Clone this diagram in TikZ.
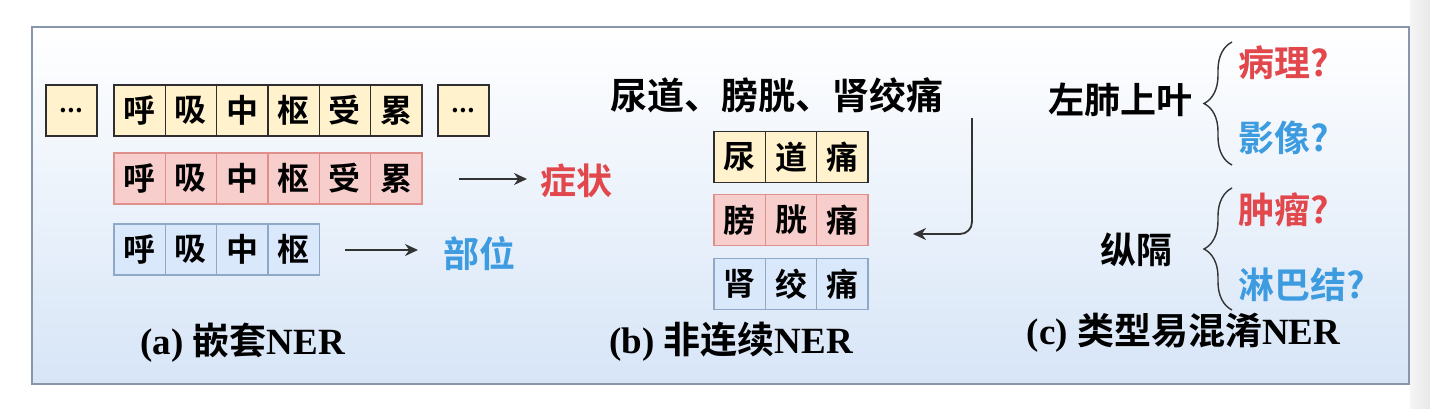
\documentclass[tikz,border=0pt]{standalone}
\usepackage{fontspec}
\setmainfont{Liberation Serif}
\newfontfamily\cjk[BoldFont={Noto Sans CJK SC Bold}]{Noto Sans CJK SC}
\usetikzlibrary{arrows.meta,decorations.pathreplacing}

\definecolor{jaune}{HTML}{FFF2CC}
\definecolor{rose}{HTML}{F8CECC}
\definecolor{bleu}{HTML}{DAE8FC}
\definecolor{bordj}{HTML}{2E2E2E}
\definecolor{bordr}{HTML}{E0908C}
\definecolor{bordb}{HTML}{8EA8C6}
\definecolor{rouge}{HTML}{E2474C}
\definecolor{bleut}{HTML}{3D9BE0}
\definecolor{cadre}{HTML}{8796AA}
\definecolor{fond}{HTML}{D7E5F7}

\begin{document}
\begin{tikzpicture}[
  x=0.5pt,y=-0.5pt,
  >={Stealth[length=6.5pt,width=6pt]},
  cell/.style={draw,line width=0.7pt,minimum width=25.67pt,minimum height=25.5pt,
    inner sep=0pt,font=\cjk\bfseries\fontsize{16}{16}\selectfont},
  cellj/.style={cell,fill=jaune,draw=bordj},
  cellr/.style={cell,fill=rose,draw=bordr},
  cellb/.style={cell,fill=bleu,draw=bordb},
  fl/.style={->,line width=0.9pt,draw=black!80},
  txt/.style={font=\cjk\bfseries\fontsize{18}{18}\selectfont,inner sep=0pt},
  titre/.style={font=\bfseries\fontsize{18.5}{18.5}\selectfont,inner sep=0pt},
  acc/.style={decorate,decoration={brace,amplitude=14pt},line width=0.7pt,draw=black!80},
]
  \useasboundingbox (0,0) rectangle (1430,408);

  % Fond
  \fill[left color=gray!8,right color=gray!18] (1410,0) rectangle (1430,408);
  \draw[draw=cadre,line width=0.8pt,top color=white,bottom color=fond]
    (32,27) rectangle (1409,384);

  % (a) NER imbrique
  \node[cellj,font=\cjk\bfseries\fontsize{12}{12}\selectfont] (pg) at (71.5,110.5) {...};
  \foreach \c [count=\i] in {呼,吸,中,枢,受,累}
    \node[cellj] (j\i) at ({114+51.33*(\i-0.5)},110.5) {\c};
  \node[cellj,font=\cjk\bfseries\fontsize{12}{12}\selectfont] (pd) at (463.5,110.5) {...};
  \foreach \c [count=\i] in {呼,吸,中,枢,受,累}
    \node[cellr] (r\i) at ({114+51.33*(\i-0.5)},178.5) {\c};
  \foreach \c [count=\i] in {呼,吸,中,枢}
    \node[cellb] (b\i) at ({114+51.33*(\i-0.5)},249.5) {\c};

  \coordinate (d2) at (459,179);
  \node[txt,text=rouge,anchor=west] (sym) at (540,181) {症状};
  \draw[fl,shorten >=6.5pt] (d2) -- (d2 -| sym.west);
  \coordinate (d3) at (345,250);
  \node[txt,text=bleut,anchor=west] (loc) at (443,254) {部位};
  \draw[fl,shorten >=12.5pt] (d3) -- (d3 -| loc.west);

  \node[titre] (ta) at (242.5,343) {(a) {\cjk 嵌套}NER};

  % (b) NER non continu
  \node[txt,font=\cjk\bfseries\fontsize{18.5}{18.5}\selectfont] (phr) at (776.5,95) {尿道、膀胱、肾绞痛};
  \foreach \c [count=\i] in {尿,道,痛}
    \node[cellj] (u\i) at ({714+51.33*(\i-0.5)},157) {\c};
  \foreach \c [count=\i] in {膀,胱,痛}
    \node[cellr] (v\i) at ({714+51.33*(\i-0.5)},220) {\c};
  \foreach \c [count=\i] in {肾,绞,痛}
    \node[cellb] (w\i) at ({714+51.33*(\i-0.5)},284) {\c};

  \coordinate (c1) at (972,118);
  \coordinate (c2) at (913,234);
  \draw[fl,rounded corners=6pt] (c1) |- (c2);

  \node[titre] (tb) at (731,342) {(b) {\cjk 非连续}NER};

  % (c) NER de type ambigu
  \node[txt,anchor=east] (lung) at (1193,100) {左肺上叶};
  \coordinate (a1b) at (1232,165);
  \coordinate (a1h) at (1232,42);
  \draw[acc] (a1b) -- (a1h);
  \node[txt,text=rouge,anchor=west] (pat) at (1238,63) {病理?};
  \node[txt,text=bleut,anchor=west] (img) at (1238,138) {影像?};

  \node[txt,anchor=east] (med) at (1173,250) {纵隔};
  \coordinate (a2b) at (1232,310);
  \coordinate (a2h) at (1232,188);
  \draw[acc] (a2b) -- (a2h);
  \node[txt,text=rouge,anchor=west] (tum) at (1238,210) {肿瘤?};
  \node[txt,text=bleut,anchor=west] (lym) at (1238,285) {淋巴结?};

  \node[titre] (tc) at (1183.5,333) {(c) {\cjk 类型易混淆}NER};
\end{tikzpicture}
\end{document}
